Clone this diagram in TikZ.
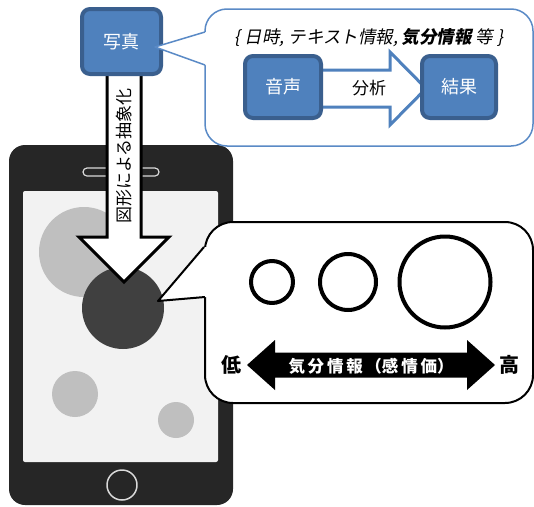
\documentclass[tikz,border=0pt]{standalone}
\usepackage{fontspec}
\setmainfont{Noto Sans CJK JP}
\newfontfamily\jpit{Noto Sans CJK JP}[FakeSlant=0.2]
\definecolor{boxfill}{HTML}{4F81BD}
\definecolor{boxborder}{HTML}{3A5F8E}
\definecolor{callblue}{HTML}{5A8AC6}
\definecolor{phone}{HTML}{262626}
\definecolor{screen}{HTML}{F2F2F2}
\definecolor{lightc}{HTML}{BFBFBF}
\definecolor{darkc}{HTML}{404040}
\definecolor{rim}{HTML}{D9D9D9}
\tikzset{
  bluebox/.style={draw=boxborder, fill=boxfill, line width=4pt, rounded corners=8pt,
    text=white, font=\fontsize{18}{18}\selectfont, inner sep=0pt},
  ring/.style={draw=black, line width=4pt, fill=white},
}
\begin{document}
\begin{tikzpicture}[x=1pt,y=-1pt,line join=round]
\useasboundingbox (0,0) rectangle (534,506);
% phone
\fill[phone, rounded corners=16pt] (9,145) rectangle (233,505);
\fill[screen, rounded corners=2pt] (23,191) rectangle (218,462);
\draw[rim, line width=1.2pt, fill=phone, rounded corners=4pt] (83,168) rectangle (159,176);
\draw[rim, line width=1.5pt] (122,485) circle[radius=15];
% screen circles
\fill[lightc] (84,252) circle[radius=45];
\fill[darkc] (123,308) circle[radius=41];
\fill[lightc] (75,394) circle[radius=23];
\fill[lightc] (176,420) circle[radius=18];
% down arrow
\draw[fill=white, line width=3pt, line join=miter]
  (107,70) -- (107,237) -- (79,237) -- (124,282) -- (169,237) -- (141,237) -- (141,70);
\node[rotate=90, font=\fontsize{17}{17}\selectfont] (abs) at (124.5,156) {図形による抽象化};
% photo box
\node[bluebox, minimum width=79pt, minimum height=65pt] (photo) at (121.5,41.5) {写真};
% top callout
\draw[callblue, line width=1.5pt, fill=white, rounded corners=22pt] (205,9) rectangle (533,146);
\fill[white] (156,47) -- (205,32) -- (207,32) -- (207,65) -- (205,65) -- cycle;
\coordinate (ttip) at (155,47);
\draw[callblue, line width=1.5pt] (205,32) -- (ttip) -- (205,65);
\node[font=\jpit\fontsize{17.5}{17.5}\selectfont] (info) at (369,38)
  {\{ 日時, テキスト情報, {\bfseries 気分情報} 等 \}};
% analysis arrow
\draw[boxfill, line width=3pt, fill=white, line join=miter]
  (320,70) -- (390,70) -- (390,52) -- (426,88.5) -- (390,125) -- (390,107) -- (320,107) -- cycle;
\node[bluebox, minimum width=76pt, minimum height=62pt] (voice) at (283,87) {音声};
\node[bluebox, minimum width=74pt, minimum height=62pt] (result) at (459,87) {結果};
\node[font=\fontsize{17}{17}\selectfont] (ana) at (369,88) {分析};
% bottom callout
\draw[black, line width=2pt, fill=white, rounded corners=28pt] (205,222) rectangle (533,403);
\fill[white] (159,301) -- (204,247) -- (207,247) -- (207,297) -- (205,297) -- cycle;
\coordinate (btip) at (158,301);
\draw[black, line width=2pt] (204,247) -- (btip) -- (205,297);
% rings
\draw[ring] (272,282) circle[radius=21];
\draw[ring] (348,282) circle[radius=28];
\draw[ring] (445,282) circle[radius=45.5];
% double arrow
\fill[black] (247,365) -- (275,340) -- (275,352.5) -- (467,352.5) -- (467,340) -- (495,365)
  -- (467,390) -- (467,377.5) -- (275,377.5) -- (275,390) -- cycle;
\node[text=white, font=\bfseries\fontsize{16.5}{16.5}\selectfont] (mood) at (371,366)
  {気\,分\,情\,報\,（感\,情\,価）};
\node[font=\bfseries\fontsize{20}{20}\selectfont] (low) at (231,365) {低};
\node[font=\bfseries\fontsize{20}{20}\selectfont] (high) at (509,365) {高};
\end{tikzpicture}
\end{document}
